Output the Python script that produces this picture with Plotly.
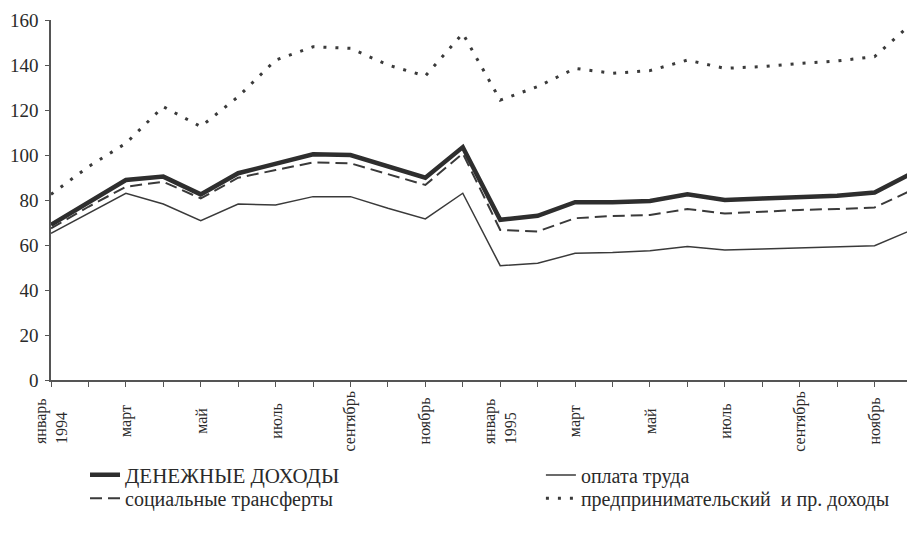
import plotly.graph_objects as go

months = ["январь<br>1994", "февраль", "март", "апрель", "май", "июнь", "июль", "август",
          "сентябрь", "октябрь", "ноябрь", "декабрь",
          "январь<br>1995", "февраль", "март", "апрель", "май", "июнь", "июль", "август",
          "сентябрь", "октябрь", "ноябрь", "декабрь"]

money_income = [69, 79, 88.9, 90.4, 82.5, 91.9, 95.9, 100.3, 100, 94.8, 89.9, 103.5,
                71.2, 73, 79, 79, 79.6, 82.5, 80, 80.7, 81.5, 81.9, 83.3, 91.9]
social_transfers = [67.4, 77, 85.9, 88.1, 80.7, 89.9, 93.3, 96.7, 96.3, 91.5, 86.7, 100.7,
                    66.7, 66, 71.9, 72.9, 73.3, 76, 74, 74.8, 75.6, 76, 76.7, 84.4]
wages = [65.2, 74, 83, 78.2, 70.8, 78.2, 77.8, 81.5, 81.5, 76.3, 71.6, 83,
         50.8, 51.9, 56.3, 56.7, 57.5, 59.3, 57.8, 58.2, 58.8, 59.3, 59.7, 66.7]
entrepreneurial = [82.5, 94.8, 105.2, 121.5, 112.6, 125.9, 142.2, 148.1, 147.4, 140, 135.1, 154,
                   124.4, 130.4, 138.5, 136.3, 137.5, 142.2, 138.5, 139.3, 140.7, 141.8, 143.7, 158.5]

series_names = ["ДЕНЕЖНЫЕ ДОХОДЫ", "оплата труда",
                "социальные трансферты", "предпринимательский  и пр. доходы"]

x = list(range(len(months)))

col = "#3a3a3a"
txt = "#2a2a2a"
fig = go.Figure()
fig.add_trace(go.Scatter(x=x, y=money_income, mode="lines", name=series_names[0],
                         legend="legend",
                         line=dict(color="#2e2e2e", width=4.5)))
fig.add_trace(go.Scatter(x=x, y=wages, mode="lines", name=series_names[1],
                         legend="legend2",
                         line=dict(color=col, width=1.5)))
fig.add_trace(go.Scatter(x=x, y=social_transfers, mode="lines", name=series_names[2],
                         legend="legend3",
                         line=dict(color=col, width=2, dash="12px,6px")))
fig.add_trace(go.Scatter(x=x, y=entrepreneurial, mode="lines", name=series_names[3],
                         legend="legend4",
                         line=dict(color=col, width=3, dash="3px,9px")))

# month labels under the axis (every second month), centred vertically like the original
for i, m in enumerate(months):
    if i % 2 == 0:
        fig.add_annotation(x=i, xref="x", y=-0.114, yref="paper", text=m,
                           textangle=-90, showarrow=False, align="left",
                           xanchor="center", yanchor="middle",
                           font=dict(family="Liberation Serif", size=16, color=txt))


def leg(xp, yp, size):
    return dict(orientation="v", xanchor="left", yanchor="top", x=xp, y=yp,
                font=dict(family="Liberation Serif", size=size, color=txt),
                tracegroupgap=0, bgcolor="rgba(0,0,0,0)", borderwidth=0)


# the page body adds an 8px offset; the figure is sized to fit the window
fig.update_layout(
    width=907, height=525,
    margin=dict(l=43, r=3, t=12, b=153, autoexpand=False),
    paper_bgcolor="white", plot_bgcolor="white",
    font=dict(family="Liberation Serif", color=txt, size=17),
    showlegend=True,
    legend=leg(0.0395, -0.207, 21),
    legend2=leg(0.569, -0.21, 20),
    legend3=leg(0.0395, -0.274, 20),
    legend4=leg(0.569, -0.274, 20),
    xaxis=dict(range=[0, 23], tickvals=x, showticklabels=False,
               showgrid=False, zeroline=False, showline=True, linecolor="#555",
               linewidth=1.5, ticks="outside", ticklen=5, tickcolor="#555"),
    yaxis=dict(range=[0, 160], dtick=20, showgrid=False, zeroline=False,
               showline=True, linecolor="#555", linewidth=1.5, ticks="outside",
               ticklen=4, tickcolor="#555", ticklabelstandoff=3,
               tickfont=dict(family="Liberation Serif", size=19, color=txt)),
)

fig.write_html("out.html")
